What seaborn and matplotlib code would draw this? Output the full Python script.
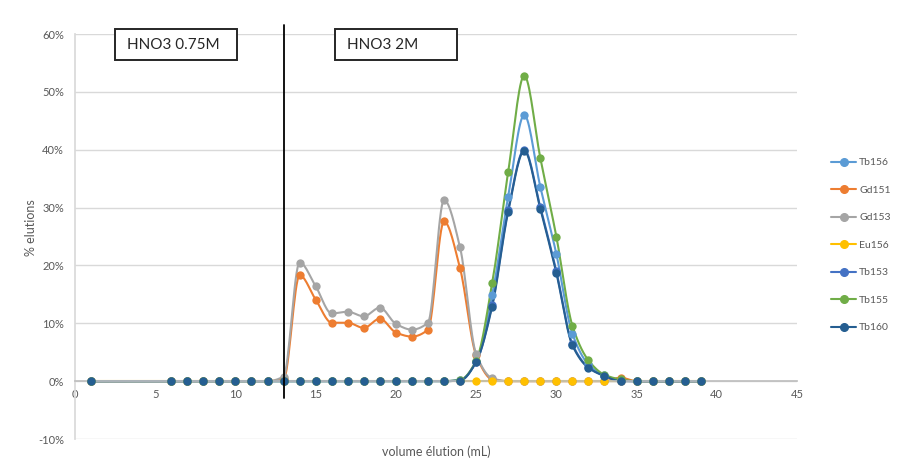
import numpy as np
import pandas as pd
import matplotlib
matplotlib.use("Agg")
import matplotlib.pyplot as plt
import seaborn as sns
from matplotlib.lines import Line2D
from matplotlib.patches import Rectangle
from matplotlib.ticker import FuncFormatter

# ---------------- data ----------------
volume = [1, 6, 7, 8, 9, 10, 11, 12, 13, 14, 15, 16, 17, 18, 19, 20, 21, 22, 23, 24,
          25, 26, 27, 28, 29, 30, 31, 32, 33, 34, 35, 36, 37, 38, 39]

tb156 = [0, 0, 0, 0, 0, 0, 0, 0, 0, 0, 0, 0, 0, 0, 0, 0, 0, 0, 0, 0.2,
         3.4, 14.9, 31.9, 46.0, 33.6, 22.0, 8.2, 2.9, 1.0, 0.2, 0, 0, 0, 0, 0]
gd151 = [0, 0, 0, 0, 0, 0, 0, 0, 0.3, 18.3, 14.1, 10.1, 10.1, 9.2, 10.8, 8.4, 7.7, 8.9, 27.6, 19.5,
         4.5, 0.3, 0, 0, 0, 0, 0, 0, 0, 0.6, 0, 0, 0, 0, 0]
gd153 = [0, 0, 0, 0, 0, 0, 0, 0, 0.8, 20.5, 16.4, 11.7, 12.0, 11.2, 12.7, 9.9, 8.9, 10.1, 31.3, 23.1,
         4.7, 0.5, 0, 0, 0, 0, 0, 0, 0, 0, 0, 0, 0, 0, 0]
eu156 = [0] * 35
tb153 = [0, 0, 0, 0, 0, 0, 0, 0, 0, 0, 0, 0, 0, 0, 0, 0, 0, 0, 0, 0.1,
         3.3, 13.2, 29.6, 40.0, 30.1, 19.0, 6.4, 2.4, 0.9, 0.1, 0, 0, 0, 0, 0]
tb155 = [0, 0, 0, 0, 0, 0, 0, 0, 0, 0, 0, 0, 0, 0, 0, 0, 0, 0, 0, 0.2,
         3.5, 16.9, 36.2, 52.8, 38.6, 25.0, 9.6, 3.6, 1.1, 0.3, 0, 0, 0, 0, 0]
tb160 = [0, 0, 0, 0, 0, 0, 0, 0, 0, 0, 0, 0, 0, 0, 0, 0, 0, 0, 0, 0.1,
         3.3, 12.9, 29.3, 39.8, 29.8, 18.7, 6.2, 2.3, 0.9, 0, 0, 0, 0, 0, 0]

series_names = ["Tb156", "Gd151", "Gd153", "Eu156", "Tb153", "Tb155", "Tb160"]
series_values = [tb156, gd151, gd153, eu156, tb153, tb155, tb160]
series_colors = ["#5B9BD5", "#ED7D31", "#A5A5A5", "#FFC000", "#4472C4", "#70AD47", "#255E91"]

x_ticks = [0, 5, 10, 15, 20, 25, 30, 35, 40, 45]
y_ticks = [-10, 0, 10, 20, 30, 40, 50, 60]
x_label = "volume élution (mL)"
y_label = "% elutions"
box_labels = ["HNO3 0.75M", "HNO3 2M"]
switch_volume = 13


def smooth(xs, ys, n=16):
    """Smoothed drawing path through the data points (monotone cubic, no overshoot)."""
    xs = np.asarray(xs, float)
    ys = np.asarray(ys, float)
    h = np.diff(xs)
    d = np.diff(ys) / h
    m = np.zeros_like(ys)
    for k in range(1, len(xs) - 1):
        if d[k - 1] * d[k] > 0:
            w1 = 2 * h[k] + h[k - 1]
            w2 = h[k] + 2 * h[k - 1]
            m[k] = (w1 + w2) / (w1 / d[k - 1] + w2 / d[k])
    px, py = [], []
    for i in range(len(xs) - 1):
        t = np.linspace(0, 1, n, endpoint=(i == len(xs) - 2))
        h00 = 2 * t ** 3 - 3 * t ** 2 + 1
        h10 = t ** 3 - 2 * t ** 2 + t
        h01 = -2 * t ** 3 + 3 * t ** 2
        h11 = t ** 3 - t ** 2
        px.append(xs[i] + t * h[i])
        py.append(h00 * ys[i] + h10 * h[i] * m[i] + h01 * ys[i + 1] + h11 * h[i] * m[i + 1])
    return np.concatenate(px), np.concatenate(py)


sns.set_theme(style="white")
plt.rcParams["font.family"] = ["Lato", "DejaVu Sans"]

fig = plt.figure(figsize=(9.10, 4.75), dpi=100)
ax = fig.add_axes([75 / 910, 1 - 439 / 475, (797 - 75) / 910, (439 - 34) / 475])

for name, vals, col in zip(series_names, series_values, series_colors):
    sx, sy = smooth(volume, vals)
    line_df = pd.DataFrame({"x": sx, "y": sy})
    sns.lineplot(data=line_df, x="x", y="y", ax=ax, color=col, lw=1.5,
                 sort=False, estimator=None, legend=False)
    pt_df = pd.DataFrame({"x": volume, "y": vals})
    sns.scatterplot(data=pt_df, x="x", y="y", ax=ax, color=col, s=36,
                    edgecolor=col, linewidth=0, legend=False, zorder=3)

ax.set_xlim(0, 45)
ax.set_ylim(-10, 60)
ax.set_xticks(x_ticks)
ax.set_yticks(y_ticks)
ax.yaxis.set_major_formatter(FuncFormatter(lambda v, p: f"{int(v)}%"))
ax.grid(axis="y", color="#D9D9D9", lw=1)
ax.grid(axis="x", visible=False)
ax.set_axisbelow(True)
for s in ["top", "right"]:
    ax.spines[s].set_visible(False)
ax.spines["bottom"].set_position(("data", 0))
ax.spines["bottom"].set_color("#BFBFBF")
ax.spines["left"].set_color("#D9D9D9")
ax.tick_params(axis="both", length=0, labelsize=8, colors="#595959", pad=8)
ax.tick_params(axis="x", pad=6)
ax.set_xlabel("")
ax.set_ylabel("")

fig.text(436 / 910, 1 - 452 / 475, x_label, ha="center", va="center",
         fontsize=9, color="#595959")
fig.text(31 / 910, 1 - 228 / 475, y_label, ha="center", va="center",
         rotation=90, fontsize=9, color="#595959")

# vertical separator line
ax.plot([switch_volume, switch_volume], [-2.9, 61.5], color="black", lw=1.3,
        clip_on=False, zorder=5)

# boxes
for (x0, x1), lab in zip([(115, 237), (335, 457)], box_labels):
    fig.patches.append(Rectangle((x0 / 910, 1 - 60 / 475), (x1 - x0) / 910, 31 / 475,
                                 transform=fig.transFigure, facecolor="white",
                                 edgecolor="#262626", lw=1.4, zorder=10))
    fig.text((x0 + 12) / 910, 1 - 45 / 475, lab, ha="left", va="center",
             fontsize=11, color="#262626", zorder=11)

handles = [Line2D([0], [0], color=c, lw=1.5, marker="o", markersize=5.5)
           for c in series_colors]
leg = fig.legend(handles, series_names, loc="upper left",
                 bbox_to_anchor=(831 / 910, 1 - 158 / 475), frameon=False,
                 fontsize=7.5, handlelength=2.4, handletextpad=0.3,
                 labelspacing=1.75, borderpad=0, borderaxespad=0)
for t in leg.get_texts():
    t.set_color("#595959")

fig.savefig("out.png", dpi=100)
